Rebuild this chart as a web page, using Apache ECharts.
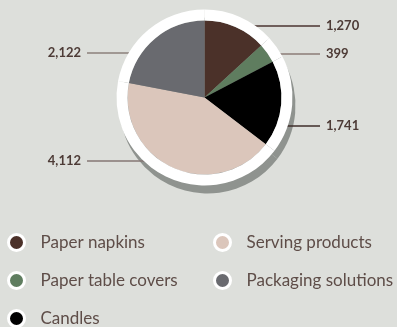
<!DOCTYPE html>
<html>
<head>
<meta charset="utf-8">
<script src="https://cdn.jsdelivr.net/npm/echarts@6/dist/echarts.min.js"></script>
<style>
html,body{margin:0;padding:0;background:#dddfdb;}
#c{width:397px;height:327px;}
</style>
</head>
<body>
<div id="c"></div>
<script>
const categories = ['Paper napkins', 'Paper table covers', 'Candles', 'Serving products', 'Packaging solutions'];
const values = [1270, 399, 1741, 4112, 2122];
const labelTexts = ['1,270', '399', '1,741', '4,112', '2,122'];

// styles
const colors = ['#4b3129', '#5f7d5f', '#000000', '#dbc6bb', '#696a6f'];
const lineColors = ['#4a3530', '#8b7d77', '#3e2e2a', '#857774', '#8b807b'];
const labelY = [26, 54, 126, 161, 53];
const labelSide = [1, 1, 1, -1, -1];
const CX = 204.5, CY = 97.5, R_IN = 77, R_OUT = 88;
const RIGHT_END = 320, LEFT_END = 87;

function edgeX(i) {
  const rr = R_OUT - 1;
  const y = labelY[i];
  const dx = Math.sqrt(Math.max(0, rr * rr - (y - CY) * (y - CY)));
  return labelSide[i] > 0 ? CX + dx : CX - dx;
}

const rich = {t: {color: '#4d3b36', fontFamily: 'Lato', fontWeight: 'bold', fontSize: 13}};
categories.forEach((n, i) => {
  const len = Math.abs((labelSide[i] > 0 ? RIGHT_END : LEFT_END) - edgeX(i));
  rich['l' + i] = {width: len, height: 1.3, backgroundColor: lineColors[i]};
  rich['g' + i] = {width: 6, height: 1};
});

const chart = echarts.init(document.getElementById('c'), null, {renderer: 'canvas'});

const dataItems = categories.map((n, i) => ({
  name: n,
  value: values[i],
  itemStyle: {color: colors[i]}
}));

const legendBase = {
  orient: 'vertical', top: 233, height: 120, padding: 0,
  itemWidth: 16, itemHeight: 16, itemGap: 19,
  icon: 'circle',
  itemStyle: {borderColor: '#ffffff', borderWidth: 3},
  textStyle: {color: '#5e4d48', fontSize: 17, fontFamily: 'Lato', padding: [0, 0, 0, 11]},
  selectedMode: false
};

chart.setOption({
  backgroundColor: '#dddfdb',
  animation: false,
  legend: [
    Object.assign({}, legendBase, {data: categories.slice(0, 3), left: 7}),
    Object.assign({}, legendBase, {data: categories.slice(3), left: 213})
  ],
  series: [
    {
      type: 'pie',
      z: 3,
      center: [CX, CY],
      radius: [0, R_IN],
      startAngle: 90,
      clockwise: true,
      silent: true,
      data: dataItems,
      label: {
        show: true,
        overflow: 'none',
        width: 200,
        formatter: p => {
          const i = p.dataIndex;
          return labelSide[i] > 0
            ? '{l' + i + '|}{g' + i + '|}{t|' + labelTexts[i] + '}'
            : '{t|' + labelTexts[i] + '}{g' + i + '|}{l' + i + '|}';
        },
        rich: rich
      },
      labelLine: {show: false},
      labelLayout: function (p) {
        const i = p.dataIndex;
        const right = labelSide[i] > 0;
        return {
          x: edgeX(i),
          y: labelY[i],
          align: right ? 'left' : 'right',
          verticalAlign: 'middle'
        };
      },
      emphasis: {disabled: true}
    },
    {
      type: 'pie',
      z: 1,
      center: [CX + 3, CY + 8],
      radius: [0, R_OUT],
      startAngle: 90,
      silent: true,
      data: values.map(v => ({value: v, name: 's'})),
      itemStyle: {color: '#8f938f'},
      label: {show: false}, labelLine: {show: false},
      emphasis: {disabled: true}
    },
    {
      type: 'pie',
      z: 4,
      center: [CX, CY],
      radius: [R_IN, R_OUT],
      startAngle: 90,
      silent: true,
      data: values.map(v => ({value: v, name: 'r'})),
      itemStyle: {color: '#ffffff'},
      label: {show: false}, labelLine: {show: false},
      emphasis: {disabled: true}
    }
  ]
});
</script>
</body>
</html>
